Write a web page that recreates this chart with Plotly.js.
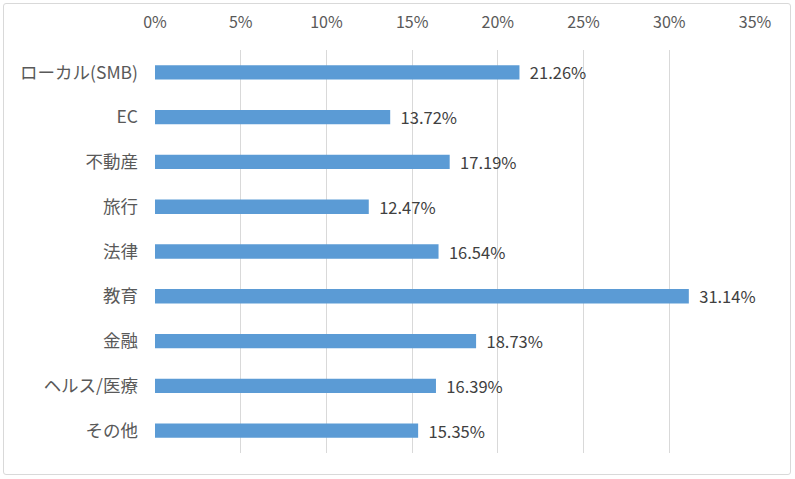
<!DOCTYPE html>
<html><head><meta charset="utf-8">
<script src="https://cdn.plot.ly/plotly-3.0.1.min.js"></script>
<style>
html,body{margin:0;padding:0;background:#fff;}
#wrap{position:relative;width:795px;height:479px;}
#chart{width:795px;height:479px;}
#frame{position:absolute;left:3px;top:3px;width:786px;height:470px;border:1px solid #D9D9D9;border-radius:3px;pointer-events:none;}
</style>
</head><body>
<div id="wrap"><div id="chart"></div><div id="frame"></div></div>
<script>
const categories = ["ローカル(SMB)", "EC", "不動産", "旅行", "法律", "教育", "金融", "ヘルス/医療", "その他"];
const values = [21.26, 13.72, 17.19, 12.47, 16.54, 31.14, 18.73, 16.39, 15.35];
const tickValues = [0, 5, 10, 15, 20, 25, 30, 35];
const tickLabels = ["0%", "5%", "10%", "15%", "20%", "25%", "30%", "35%"];

const font = "'Noto Sans CJK JP', 'Noto Sans', sans-serif";
Plotly.newPlot('chart', [{
  type: 'bar',
  orientation: 'h',
  y: categories,
  x: values,
  width: 0.32,
  marker: {color: '#5B9BD5'},
  text: values.map(v => '\u00a0\u00a0' + v.toFixed(2) + '%'),
  textposition: 'outside',
  constraintext: 'none',
  textfont: {family: font, size: 16.5, color: '#404040'},
  cliponaxis: false,
  hoverinfo: 'none'
}], {
  width: 795, height: 479,
  margin: {l: 155, r: 40, t: 50, b: 26},
  paper_bgcolor: '#fff', plot_bgcolor: '#fff',
  showlegend: false,
  xaxis: {
    side: 'top', range: [0, 35], tickvals: tickValues, ticktext: tickLabels,
    showgrid: true, gridcolor: '#D9D9D9', gridwidth: 1, zeroline: false,
    showline: false, ticks: '', ticklen: 0, ticklabelstandoff: 18,
    tickfont: {family: font, size: 16, color: '#595959'}
  },
  yaxis: {
    autorange: 'reversed', showgrid: false, zeroline: false, showline: false,
    ticks: '', ticklabelstandoff: 16,
    tickfont: {family: font, size: 17.5, color: '#595959'}
  }
}, {staticPlot: true});
</script>
</body></html>
